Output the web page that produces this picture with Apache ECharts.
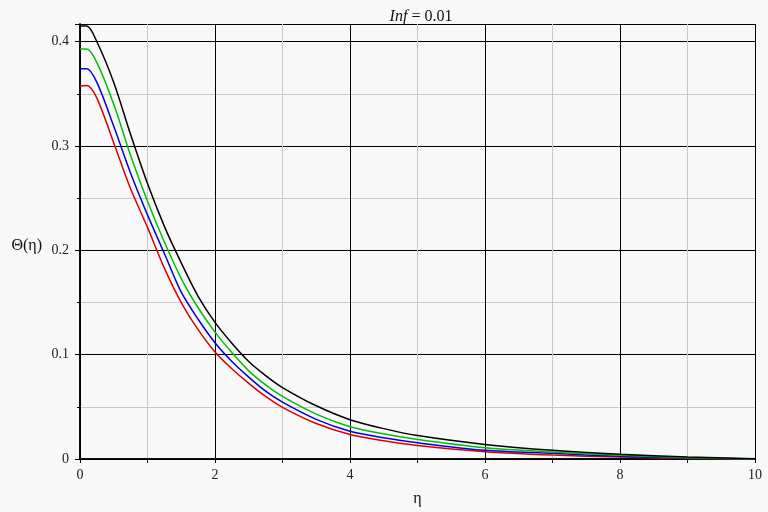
<!DOCTYPE html>
<html>
<head>
<meta charset="utf-8">
<script src="https://cdn.jsdelivr.net/npm/echarts@6/dist/echarts.min.js"></script>
<style>html,body{margin:0;padding:0;background:#f8f8f8;}#c{width:768px;height:512px;}</style>
</head>
<body>
<div id="c"></div>
<script>
var eta = [0, 0.1, 0.25, 0.5, 0.75, 1, 1.25, 1.5, 1.75, 2, 2.25, 2.5, 2.75, 3, 3.5, 4, 4.5, 5, 6, 7, 8, 9, 10];
var thetaRed   = [0.3575, 0.358, 0.346, 0.303, 0.259, 0.222, 0.183, 0.150, 0.124, 0.1026, 0.0865, 0.0725, 0.060, 0.0495, 0.034, 0.0235, 0.0175, 0.013, 0.007, 0.0038, 0.0019, 0.0005, 0.0];
var thetaBlue  = [0.374, 0.374, 0.361, 0.319, 0.274, 0.234, 0.197, 0.160, 0.134, 0.1115, 0.0935, 0.0785, 0.065, 0.0545, 0.038, 0.0266, 0.0203, 0.0155, 0.0083, 0.0054, 0.0026, 0.0010, 0.0];
var thetaGreen = [0.393, 0.393, 0.380, 0.340, 0.291, 0.247, 0.208, 0.173, 0.145, 0.1216, 0.102, 0.0845, 0.071, 0.060, 0.043, 0.031, 0.0241, 0.0187, 0.0108, 0.0067, 0.0035, 0.0013, 0.0];
var thetaBlack = [0.415, 0.415, 0.400, 0.361, 0.311, 0.264, 0.223, 0.188, 0.156, 0.131, 0.111, 0.0935, 0.080, 0.0685, 0.051, 0.0377, 0.0291, 0.0225, 0.014, 0.0083, 0.0045, 0.0019, 0.0003];
var xTicks = [0, 2, 4, 6, 8, 10];
var yTicks = [0, 0.1, 0.2, 0.3, 0.4];

function pairs(v){ return eta.map(function(e,i){ return [e, v[i]]; }); }
var serif = '"Liberation Serif","Times New Roman",serif';
var chart = echarts.init(document.getElementById('c'));
function mk(name, color, vals){
  return {type:'line', name:name, data:pairs(vals), showSymbol:false, smooth:0.3,
    lineStyle:{color:color, width:1.5}, xAxisIndex:0, yAxisIndex:0};
}
chart.setOption({
  backgroundColor:'#f8f8f8',
  animation:false,
  title:{text:'{i|Inf} = 0.01', left:416, top:4, textAlign:'center',
    textStyle:{fontFamily:serif, fontSize:16, fontWeight:'normal', color:'#111',
      rich:{i:{fontFamily:serif, fontSize:16, fontStyle:'italic', color:'#111'}}}},
  grid:{left:80, right:13, top:24, bottom:49},
  xAxis:[{type:'value', min:0, max:10, interval:2, offset:2,
    name:'η', nameLocation:'middle', nameGap:30, nameTextStyle:{fontFamily:serif, fontSize:16, color:'#111'},
    axisLine:{show:true, lineStyle:{color:'#000', width:1.5}},
    axisTick:{show:true, length:4, lineStyle:{color:'#000'}},
    minorTick:{show:true, splitNumber:2, length:4, lineStyle:{color:'#000'}},
    axisLabel:{fontFamily:serif, fontSize:14, color:'#222', margin:7,
      formatter:function(v){ return xTicks.indexOf(v) >= 0 ? String(v) : ''; }},
    splitLine:{show:true, lineStyle:{color:'#000', width:1}},
    minorSplitLine:{show:true, lineStyle:{color:'#c8c8c8', width:1}}},
   {type:'value', min:0, max:10, position:'top', axisLine:{show:true, lineStyle:{color:'#000', width:1.5}},
    axisTick:{show:false}, axisLabel:{show:false}, splitLine:{show:false}}],
  yAxis:[{type:'value', min:0, max:0.417, interval:0.1, offset:2,
    name:'Θ(η)', nameLocation:'middle', nameRotate:0, nameGap:36,
    nameTextStyle:{fontFamily:serif, fontSize:16, color:'#111', align:'right', verticalAlign:'top', lineHeight:8},
    axisLine:{show:true, lineStyle:{color:'#000', width:1.5}},
    axisTick:{show:true, length:5, lineStyle:{color:'#000'}},
    minorTick:{show:true, splitNumber:2, length:3, lineStyle:{color:'#000'}},
    axisLabel:{fontFamily:serif, fontSize:14, color:'#222', margin:9, showMaxLabel:false,
      formatter:function(v){ for (var i=0;i<yTicks.length;i++){ if (Math.abs(yTicks[i]-v)<1e-9) return String(yTicks[i]); } return ''; }},
    splitLine:{show:true, lineStyle:{color:'#000', width:1}},
    minorSplitLine:{show:true, lineStyle:{color:'#c8c8c8', width:1}}},
   {type:'value', min:0, max:0.417, position:'right', offset:2, axisLine:{show:true, lineStyle:{color:'#000', width:1.5}},
    axisTick:{show:false}, axisLabel:{show:false}, splitLine:{show:false}}],
  series:[
    mk('red', '#dd0000', thetaRed),
    mk('blue', '#0000dd', thetaBlue),
    mk('green', '#00c000', thetaGreen),
    mk('black', '#000000', thetaBlack)
  ]
});
</script>
</body>
</html>
